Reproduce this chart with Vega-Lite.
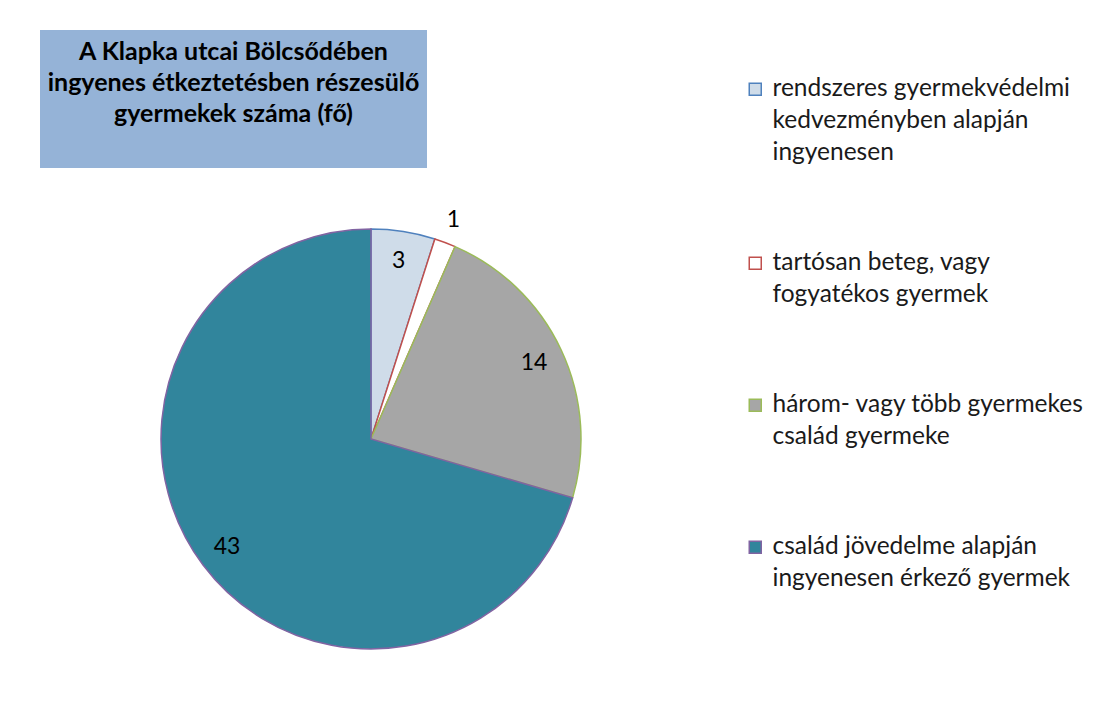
{
  "$schema": "https://vega.github.io/schema/vega-lite/v6.json",
  "autosize": {"type": "pad"},
  "padding": {"left": 40, "top": 30, "right": 10, "bottom": 10},
  "background": "white",
  "config": {"view": {"stroke": null}, "font": "Lato"},
  "spacing": 41,
  "vconcat": [
    {
      "width": 387,
      "height": 138,
      "view": {"fill": "#95B3D7", "stroke": null},
      "data": {"values": [{"id": 1}]},
      "mark": {"type": "text", "font": "Lato", "fontSize": 25, "fontWeight": "bold", "lineHeight": 31, "align": "center", "baseline": "middle", "dy": -47, "color": "black"},
      "encoding": {
        "text": {"value": ["A Klapka utcai Bölcsődében", "ingyenes étkeztetésben részesülő", "gyermekek száma (fő)"]}
      }
    },
    {
      "width": 662,
      "height": 420,
      "data": {
        "values": [
          {"kategoria": "rendszeres gyermekvédelmi|kedvezményben alapján|ingyenesen", "fo": 3, "sorrend": 1},
          {"kategoria": "tartósan beteg, vagy|fogyatékos gyermek", "fo": 1, "sorrend": 2},
          {"kategoria": "három- vagy több gyermekes|család gyermeke", "fo": 14, "sorrend": 3},
          {"kategoria": "család jövedelme alapján|ingyenesen érkező gyermek", "fo": 43, "sorrend": 4}
        ]
      },
      "encoding": {
        "theta": {"field": "fo", "type": "quantitative", "stack": true},
        "order": {"field": "sorrend", "type": "quantitative"},
        "color": {
          "field": "kategoria",
          "type": "nominal",
          "scale": {
            "domain": ["rendszeres gyermekvédelmi|kedvezményben alapján|ingyenesen", "tartósan beteg, vagy|fogyatékos gyermek", "három- vagy több gyermekes|család gyermeke", "család jövedelme alapján|ingyenesen érkező gyermek"],
            "range": ["#cfdce9", "#ffffff", "#a6a6a6", "#31859c"]
          },
          "legend": {
            "title": null,
            "orient": "none",
            "legendX": 703,
            "legendY": 47,
            "symbolType": "square",
            "symbolSize": 144,
            "symbolStrokeWidth": 1.5,
            "labelFont": "Lato",
            "labelFontSize": 24.5,
            "labelColor": "#1a1a1a",
            "labelLimit": 400,
            "labelOffset": 5,
            "rowPadding": 85,
            "labelExpr": "split(datum.label, '|')",
            "encode": {"labels": {"update": {"lineHeight": {"value": 32}}}}
          }
        },
        "stroke": {
          "field": "kategoria",
          "type": "nominal",
          "scale": {
            "domain": ["rendszeres gyermekvédelmi|kedvezményben alapján|ingyenesen", "tartósan beteg, vagy|fogyatékos gyermek", "három- vagy több gyermekes|család gyermeke", "család jövedelme alapján|ingyenesen érkező gyermek"],
            "range": ["#4f81bd", "#c0504d", "#9bbb59", "#8064a2"]
          },
          "legend": {
            "title": null,
            "orient": "none",
            "legendX": 703,
            "legendY": 47,
            "symbolType": "square",
            "symbolSize": 144,
            "symbolStrokeWidth": 1.5,
            "labelFont": "Lato",
            "labelFontSize": 24.5,
            "labelColor": "#1a1a1a",
            "labelLimit": 400,
            "labelOffset": 5,
            "rowPadding": 85,
            "labelExpr": "split(datum.label, '|')",
            "encode": {"labels": {"update": {"lineHeight": {"value": 32}}}}
          }
        }
      },
      "layer": [
        {"mark": {"type": "arc", "radius": 210, "strokeWidth": 1.5}},
        {
          "mark": {"type": "text", "radius": {"expr": "datum.fo == 1 ? 234 : 180"}, "font": "Lato", "fontSize": 23, "color": "black", "fill": "black", "stroke": null},
          "encoding": {"text": {"field": "fo", "type": "quantitative"}, "color": {"value": "black"}, "stroke": {"value": null}}
        }
      ]
    }
  ]
}
